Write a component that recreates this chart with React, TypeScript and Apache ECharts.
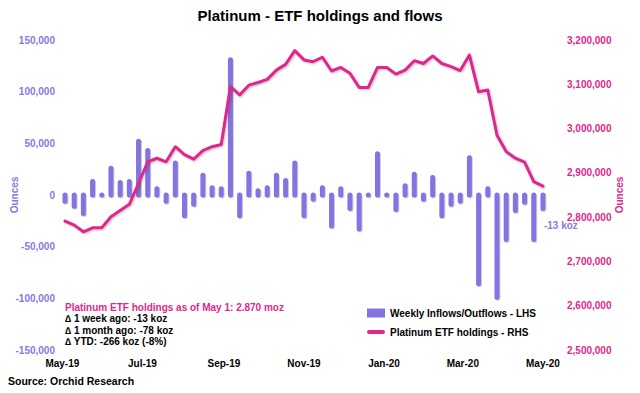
import React, { useEffect, useRef } from "react";
import * as echarts from "echarts";

const weeks = [
  "2019-05-03", "2019-05-10", "2019-05-17", "2019-05-24", "2019-05-31",
  "2019-06-07", "2019-06-14", "2019-06-21", "2019-06-28",
  "2019-07-05", "2019-07-12", "2019-07-19", "2019-07-26",
  "2019-08-02", "2019-08-09", "2019-08-16", "2019-08-23", "2019-08-30",
  "2019-09-06", "2019-09-13", "2019-09-20", "2019-09-27",
  "2019-10-04", "2019-10-11", "2019-10-18", "2019-10-25",
  "2019-11-01", "2019-11-08", "2019-11-15", "2019-11-22", "2019-11-29",
  "2019-12-06", "2019-12-13", "2019-12-20", "2019-12-27",
  "2020-01-03", "2020-01-10", "2020-01-17", "2020-01-24", "2020-01-31",
  "2020-02-07", "2020-02-14", "2020-02-21", "2020-02-28",
  "2020-03-06", "2020-03-13", "2020-03-20", "2020-03-27",
  "2020-04-03", "2020-04-10", "2020-04-17", "2020-04-24",
  "2020-05-01",
];

const weeklyFlows = [
  -6000, -11000, -18000, 13000, 0, 26000, 12000, 13000, 52000, 43000,
  6000, -6000, 31000, -20000, -9000, 19000, 7000, 6000, 131000, -20000,
  21000, 4000, 7000, 19000, 14000, 31000, -20000, -4000, 7000, -30000,
  6000, -13000, -33000, 0, 40000, 0, -14000, 9000, 20000, -4000,
  17000, -20000, -9000, -6000, 36000, -86000, 6000, -99000, -43000, -15000,
  -7000, -43000, -13000,
];

const holdings = [
  2791000, 2782000, 2767000, 2776000, 2776000, 2801000, 2815000, 2829000, 2876000, 2925000,
  2933000, 2925000, 2959000, 2941000, 2931000, 2950000, 2959000, 2964000, 3095000, 3076000,
  3098000, 3104000, 3111000, 3132000, 3145000, 3176000, 3155000, 3151000, 3161000, 3130000,
  3138000, 3125000, 3093000, 3093000, 3138000, 3138000, 3123000, 3132000, 3153000, 3147000,
  3164000, 3147000, 3140000, 3131000, 3166000, 3083000, 3087000, 2985000, 2948000, 2933000,
  2924000, 2880000, 2870000,
];

const tickDates = ["2019-05-01", "2019-07-01", "2019-09-01", "2019-11-01", "2020-01-01", "2020-03-01", "2020-05-01"];
const tickLabels = ["May-19", "Jul-19", "Sep-19", "Nov-19", "Jan-20", "Mar-20", "May-20"];

const axisName = "Ounces";
const lastLabel = "-13 koz";
const noteTitle = "Platinum ETF holdings as of May 1: 2.870 moz";
const noteLines = ["\u2206 1 week ago: -13 koz", "\u2206 1 month ago: -78 koz", "\u2206 YTD: -266 koz (-8%)"];

const PURPLE = "#8673E3";
const PURPLE_TXT = "#8878E6";
const PINK = "#E0288C";
const FONT = "'Liberation Sans', Arial, sans-serif";

const toTime = (s: string) => Date.parse(s + "T00:00:00Z");

export default function App() {
  const ref = useRef<HTMLDivElement>(null);

  useEffect(() => {
    if (!ref.current) return;
    const chart = echarts.init(ref.current, undefined, { renderer: "svg" });
    const DAY = 86400000;
    const t0 = toTime(weeks[0]);
    const tickTimes = tickDates.map(toTime);
    const lastIdx = weeks.length - 1;

    const option: any = {
      animation: false,
      textStyle: { fontFamily: FONT },
      title: {
        text: "Platinum - ETF holdings and flows",
        left: "center",
        top: 8,
        padding: 0,
        textStyle: { fontFamily: FONT, fontSize: 15, fontWeight: "bold", color: "#000" },
      },
      grid: { left: 58, right: 75, top: 40, bottom: 43, containLabel: false, outerBoundsMode: "none" },
      legend: {
        orient: "vertical",
        left: 367,
        top: 308,
        padding: 0,
        itemWidth: 18,
        itemHeight: 9,
        itemGap: 9,
        symbolKeepAspect: true,
        textStyle: { fontFamily: FONT, fontSize: 10, fontWeight: "bold", color: "#000" },
        data: [
          { name: "Weekly Inflows/Outflows - LHS", icon: "rect" },
          {
            name: "Platinum ETF holdings - RHS",
            icon: "path://M2,0 L16,0 A2,2 0 0 1 16,4 L2,4 A2,2 0 0 1 2,0 Z",
            itemStyle: { color: PINK },
          },
        ],
      },
      xAxis: {
        type: "value",
        min: t0 - 5.33 * DAY,
        max: t0 + 380.8 * DAY,
        axisLine: { show: false },
        axisTick: { show: false },
        splitLine: { show: false },
        axisLabel: {
          customValues: tickTimes,
          margin: 8,
          fontSize: 10,
          fontWeight: "bold",
          color: "#000",
          fontFamily: FONT,
          formatter: (v: number) => {
            const i = tickTimes.indexOf(v);
            return i >= 0 ? tickLabels[i] : "";
          },
        },
      },
      yAxis: [
        {
          type: "value",
          min: -150000,
          max: 150000,
          interval: 50000,
          axisLine: { show: false },
          axisTick: { show: false },
          splitLine: { show: false },
          axisLabel: {
            margin: 3,
            fontSize: 10,
            fontWeight: "bold",
            color: PURPLE_TXT,
            fontFamily: FONT,
            formatter: (v: number) => v.toLocaleString("en-US"),
          },
        },
        {
          type: "value",
          min: 2500000,
          max: 3200000,
          interval: 100000,
          axisLine: { show: false },
          axisTick: { show: false },
          splitLine: { show: false },
          axisLabel: {
            margin: 2,
            fontSize: 10,
            fontWeight: "bold",
            color: PINK,
            fontFamily: FONT,
            formatter: (v: number) => v.toLocaleString("en-US"),
          },
        },
      ],
      series: [
        {
          name: "Weekly Inflows/Outflows - LHS",
          type: "custom",
          xAxisIndex: 0,
          yAxisIndex: 0,
          itemStyle: { color: PURPLE },
          encode: { x: 0, y: 1 },
          data: weeks.map((w, i) => [toTime(w), weeklyFlows[i]]),
          renderItem: (params: any, api: any) => {
            const x = api.value(0);
            const v = api.value(1);
            const p0 = api.coord([x, 0]);
            const p1 = api.coord([x, v]);
            const dy = v === 0 ? 0.01 : 0;
            const children: any[] = [
              {
                type: "line",
                shape: { x1: p0[0] + 1, y1: p0[1] + 1, x2: p1[0] + 1, y2: p1[1] + 1 + dy },
                style: { stroke: "rgba(0,0,0,0.18)", lineWidth: 5, lineCap: "round" },
              },
              {
                type: "line",
                shape: { x1: p0[0], y1: p0[1], x2: p1[0], y2: p1[1] + dy },
                style: { stroke: PURPLE, lineWidth: 5, lineCap: "round" },
              },
            ];
            if (params.dataIndex === lastIdx) {
              children.push({
                type: "text",
                x: p1[0] + 1,
                y: p1[1] + 17,
                style: {
                  text: lastLabel,
                  fill: PURPLE_TXT,
                  font: `bold 10px ${FONT}`,
                  align: "left",
                  verticalAlign: "middle",
                },
              });
            }
            return { type: "group", children };
          },
        },
        {
          name: "Platinum ETF holdings - RHS",
          type: "line",
          xAxisIndex: 0,
          yAxisIndex: 1,
          symbol: "none",
          showSymbol: false,
          itemStyle: { color: PINK },
          lineStyle: {
            color: PINK,
            width: 3,
            cap: "round",
            join: "round",
            shadowBlur: 2,
            shadowOffsetX: 1,
            shadowOffsetY: 1,
            shadowColor: "rgba(0,0,0,0.25)",
          },
          data: weeks.map((w, i) => [toTime(w), holdings[i]]),
        },
      ],
      graphic: [
        {
          type: "text",
          x: 14,
          y: 195,
          rotation: Math.PI / 2,
          style: { text: axisName, fill: PURPLE_TXT, font: `bold 10px ${FONT}`, align: "center", verticalAlign: "middle" },
        },
        {
          type: "text",
          x: 619,
          y: 195,
          rotation: Math.PI / 2,
          style: { text: axisName, fill: PINK, font: `bold 10px ${FONT}`, align: "center", verticalAlign: "middle" },
        },
        {
          type: "text",
          left: 65,
          top: 302,
          style: { text: noteTitle, fill: PINK, font: `bold 10px ${FONT}` },
        },
        ...noteLines.map((t, i) => ({
          type: "text",
          left: 65,
          top: 313.5 + i * 11.5,
          style: { text: t, fill: "#000", font: `bold 10px ${FONT}` },
        })),
        {
          type: "text",
          left: 8,
          top: 375,
          style: { text: "Source: Orchid Research", fill: "#000", font: `bold 10.5px ${FONT}` },
        },
      ],
    };

    chart.setOption(option);
    return () => chart.dispose();
  }, []);

  return <div ref={ref} style={{ width: 640, height: 393, position: "absolute", left: 0, top: 0 }} />;
}
